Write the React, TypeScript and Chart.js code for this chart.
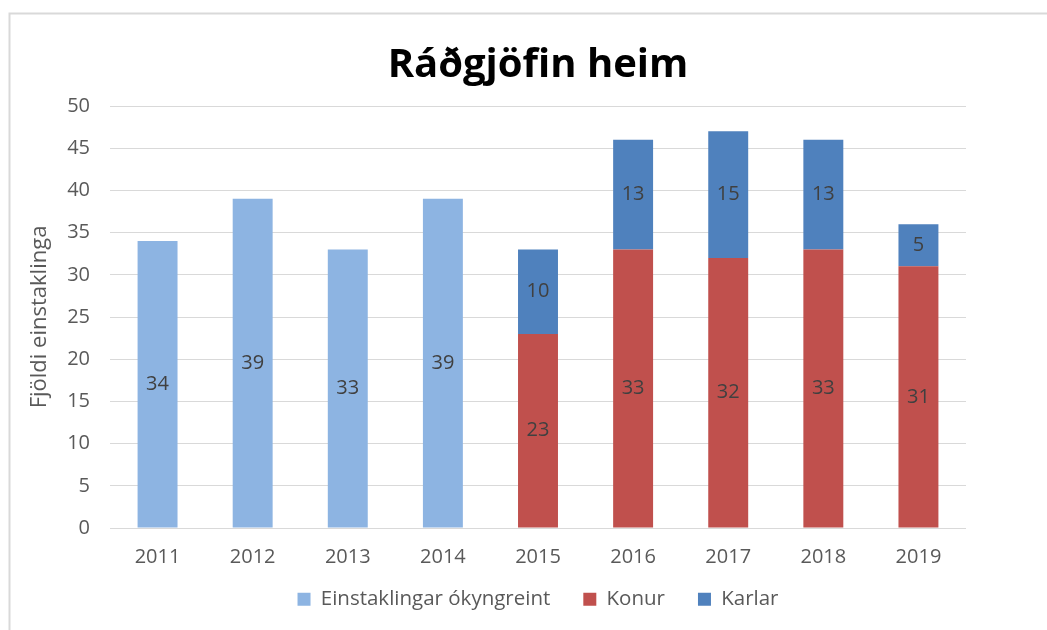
import React, { useEffect, useRef } from "react";
import { Chart, registerables } from "chart.js";

Chart.register(...registerables);

const years = ["2011", "2012", "2013", "2014", "2015", "2016", "2017", "2018", "2019"];
const unspecified = [34, 39, 33, 39, null, null, null, null, null];
const women = [null, null, null, null, 23, 33, 32, 33, 31];
const men = [null, null, null, null, 10, 13, 15, 13, 5];
const yTicks = [0, 5, 10, 15, 20, 25, 30, 35, 40, 45, 50];

const FONT = "'Open Sans', 'Noto Sans', sans-serif";

const framePlugin = {
  id: "frame",
  beforeDraw(chart: any) {
    const ctx = chart.ctx;
    ctx.save();
    ctx.fillStyle = "#ffffff";
    ctx.fillRect(0, 0, chart.width, chart.height);
    ctx.strokeStyle = "#D9D9D9";
    ctx.lineWidth = 2;
    ctx.beginPath();
    ctx.moveTo(9.5, chart.height);
    ctx.lineTo(9.5, 13.5);
    ctx.lineTo(chart.width, 13.5);
    ctx.stroke();
    ctx.restore();
  },
};

// move the legend up closer to the axis labels
const legendShiftPlugin = {
  id: "legendShift",
  afterLayout(chart: any) {
    const lg = chart.legend;
    if (!lg) return;
    const shift = lg.top - 556;
    lg.top -= shift;
    lg.bottom -= shift;
  },
};

const labelPlugin = {
  id: "barLabels",
  afterDatasetsDraw(chart: any) {
    const ctx = chart.ctx;
    ctx.save();
    ctx.fillStyle = "#404040";
    ctx.font = `20px ${FONT}`;
    ctx.textAlign = "center";
    ctx.textBaseline = "middle";
    chart.data.datasets.forEach((ds: any, i: number) => {
      const meta = chart.getDatasetMeta(i);
      meta.data.forEach((el: any, j: number) => {
        const v = ds.data[j];
        if (v === null || v === undefined) return;
        const p = el.getCenterPoint();
        ctx.fillText(String(v), p.x, p.y);
      });
    });
    ctx.restore();
  },
};

export default function App() {
  const ref = useRef<HTMLCanvasElement>(null);
  useEffect(() => {
    document.body.style.margin = "0";
    const chart = new Chart(ref.current!, {
      type: "bar",
      data: {
        labels: years,
        datasets: [
          { label: "Einstaklingar ókyngreint", data: unspecified, backgroundColor: "#8DB4E2" },
          { label: "Konur", data: women, backgroundColor: "#C0504D" },
          { label: "Karlar", data: men, backgroundColor: "#4F81BD" },
        ],
      },
      options: {
        responsive: false,
        animation: false,
        datasets: { bar: { barPercentage: 0.42, categoryPercentage: 1 } },
        layout: { padding: { left: 0, right: 81, top: 0, bottom: 0 } },
        plugins: {
          title: {
            display: true,
            fullSize: false,
            text: "Ráðgjöfin heim",
            color: "#000000",
            font: { family: FONT, size: 40, weight: "bold" },
            padding: { top: 42, bottom: 16 },
          },
          legend: {
            position: "bottom",
            fullSize: false,
            maxHeight: 60,
            labels: {
              color: "#595959",
              font: { family: FONT, size: 20.5 },
              boxWidth: 13,
              boxHeight: 13,
              padding: 33,
            },
          },
          tooltip: { enabled: false },
        },
        scales: {
          x: {
            stacked: true,
            grid: { display: false, drawTicks: false },
            border: { display: false },
            ticks: { color: "#595959", font: { family: FONT, size: 20 }, padding: 17 },
            afterFit: (scale: any) => {
              scale.height = 42;
            },
          },
          y: {
            stacked: true,
            min: 0,
            max: 50,
            afterBuildTicks: (scale: any) => {
              scale.ticks = yTicks.map((v) => ({ value: v }));
            },
            afterFit: (scale: any) => {
              scale.width = 110;
            },
            grid: { color: "#D9D9D9", drawTicks: false, lineWidth: 1 },
            border: { display: false },
            ticks: { color: "#595959", font: { family: FONT, size: 20 }, padding: 20 },
            title: {
              display: true,
              text: "Fjöldi einstaklinga",
              color: "#595959",
              font: { family: FONT, size: 22 },
              padding: { top: 27, bottom: 0 },
            },
          },
        },
      },
      plugins: [framePlugin, legendShiftPlugin, labelPlugin],
    } as any);
    return () => chart.destroy();
  }, []);
  return (
    <div style={{ position: "absolute", left: 0, top: 0, width: 1047, height: 630 }}>
      <canvas ref={ref} width={1047} height={630} />
    </div>
  );
}
